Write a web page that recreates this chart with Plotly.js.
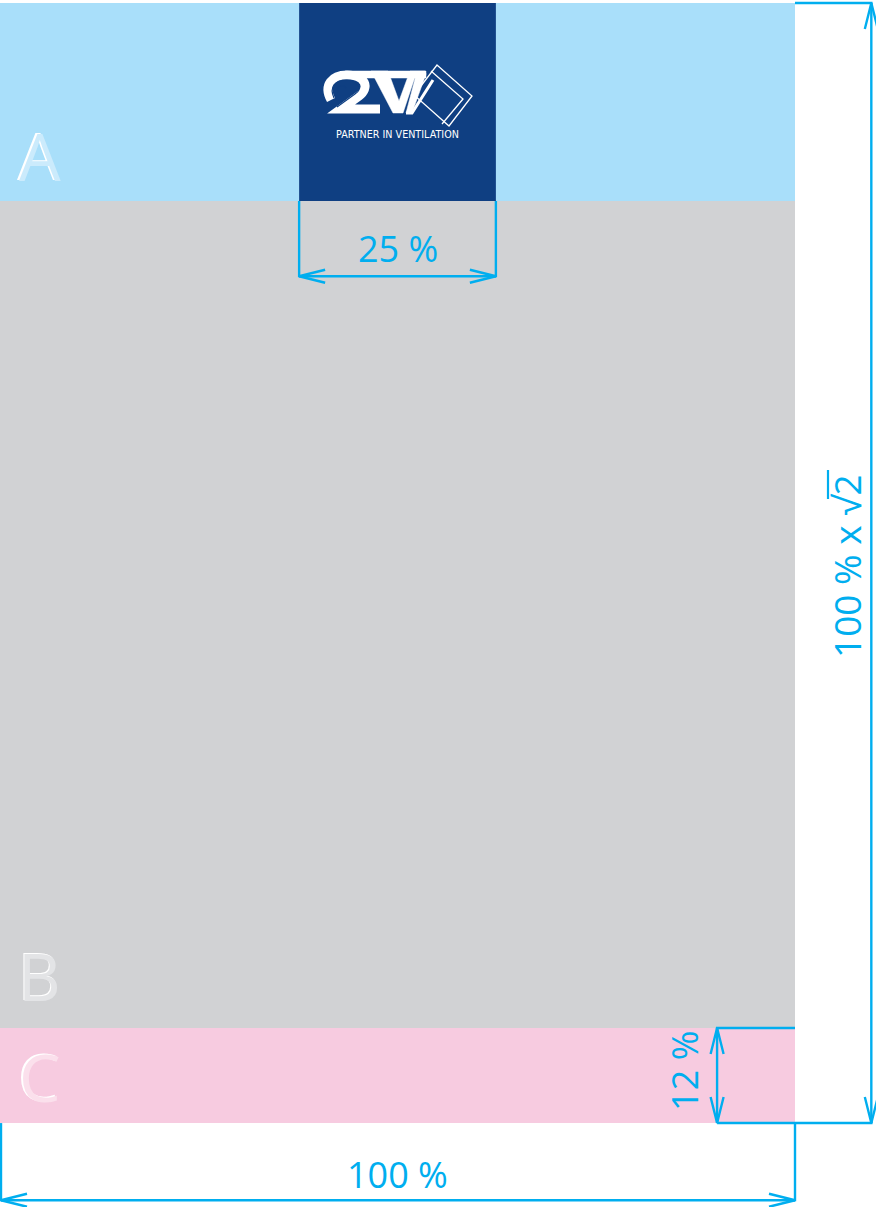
<!DOCTYPE html>
<html><head><meta charset="utf-8">
<script src="https://cdn.plot.ly/plotly-3.0.1.min.js"></script>
<style>html,body{margin:0;padding:0;background:#fff;}#chart{width:876px;height:1207px;}</style>
</head><body><div id="chart"></div>
<script>
// ---- Proportions (percent of the page width) ----
const sectionLabels = ['A', 'B', 'C'];
const pageWidthPct = 100;
const pageRatio = Math.SQRT2;       // height = width x sqrt(2)
const logoPct = 25;                  // logo block width (and height)
const footerPct = 12;                // footer band height
const dimLabels = ['25 %', '100 % x \u221A2', '12 %', '100 %'];
const logoTagline = 'PARTNER IN VENTILATION';

// ---- geometry helpers (percent units -> axis units) ----
const SX = 7.95, SY = 7.92, OX = 0, OY = 3;
const X = u => OX + u * SX, Y = u => OY + u * SY;
const W = pageWidthPct, H = pageWidthPct * pageRatio;
const CY = '#00AEEF';
const LW = 2.4;

const shapes = [];
function rect(x0, y0, x1, y1, fill, layer) {
  shapes.push({type: 'rect', xref: 'x', yref: 'y', x0, y0, x1, y1, fillcolor: fill, line: {width: 0}, layer: layer || 'below'});
}
function line(x0, y0, x1, y1, color, w) {
  shapes.push({type: 'line', xref: 'x', yref: 'y', x0, y0, x1, y1, line: {color: color || CY, width: w || LW}});
}
function path(d, color, w, fill) {
  shapes.push({type: 'path', xref: 'x', yref: 'y', path: d, line: {color: color || CY, width: w || LW}, fillcolor: fill || 'rgba(0,0,0,0)'});
}
function arrow(tx, ty, dx, dy) {
  const L = 26, hw = 6.5;
  const ax = tx + dx * L - dy * hw, ay = ty + dy * L + dx * hw;
  const bx = tx + dx * L + dy * hw, by = ty + dy * L - dx * hw;
  path(`M ${ax},${ay} L ${tx},${ty} L ${bx},${by}`);
}

// ---- page sections ----
rect(X(0), Y(0), X(W), Y(logoPct), '#A9DFFA');
rect(X(0), Y(logoPct), X(W), Y(H - footerPct), '#D1D2D4');
rect(X(0), Y(H - footerPct), X(W), Y(H), '#F7CBE0');
rect(X(50 - logoPct / 2) + 1, Y(0), X(50 + logoPct / 2) - 1, Y(logoPct), '#0F3F82');

// ---- dimension: logo width ----
const lx0 = X(50 - logoPct / 2) + 1, lx1 = X(50 + logoPct / 2) - 1, ly = Y(logoPct + 9.5);
line(lx0, Y(logoPct), lx0, ly + 1);
line(lx1, Y(logoPct), lx1, ly + 1);
line(lx0, ly, lx1, ly);
arrow(lx0, ly, 1, 0); arrow(lx1, ly, -1, 0);

// ---- dimension: page height ----
const rx = X(W + 9.6);
line(X(W), Y(0), rx + 1.2, Y(0));
line(rx, Y(0), rx, Y(H));
line(X(W - 9.8), Y(H), rx + 1.2, Y(H));
arrow(rx, Y(0), 0, 1); arrow(rx, Y(H), 0, -1);

// ---- dimension: footer height ----
const fx = X(W - 9.8);
line(fx - 1.2, Y(H - footerPct), X(W), Y(H - footerPct));
line(fx, Y(H - footerPct), fx, Y(H));
arrow(fx, Y(H - footerPct), 0, 1); arrow(fx, Y(H), 0, -1);

// ---- dimension: page width ----
const by = Y(H + 9.75);
line(X(0) + 1, Y(H), X(0) + 1, by + 1);
line(X(W), Y(H), X(W), by + 1);
line(X(0) + 1, by, X(W), by);
arrow(X(0) + 1, by, 1, 0); arrow(X(W), by, -1, 0);

// overline of the square-root sign (rotated label)
line(828, 470, 828, 499, CY, 2.2);

// ---- logo mark (white) ----
const LB = '#0F3F82';
const WH = '#FFFFFF';
// "2"
path('M 331,100 C 323,85 332,75 347,75 C 366,75 370,88 359,96 L 341,109 L 380,109', WH, 9);
path('M 334,98 C 329,87 335,80 346,80 C 359,80 363,89 355,94 L 337,107', LB, 1.2);
path('M 338,92 C 336,86 343,84 346,88', LB, 1.2);
// joined top bar
path('M 345,71 L 426,71 L 426,78 L 345,78 Z', WH, 0.5, WH);
// first V
path('M 371,71 L 388,71 L 399,101 L 410,71 L 417,71 L 403,113 L 393,113 Z', WH, 0.5, WH);
// second V
path('M 417,71 L 425,71 L 426,74 L 412,113 L 406,113 Z', WH, 0.5, WH);
path('M 406,113 L 412,113 L 433,80', WH, 3);
// diamonds
path('M 437,65 L 472,96 L 449,126 L 414,95 Z', WH, 1.3);
path('M 431,71 L 463,99 L 442,124', WH, 1.3);

// ---- annotations ----
const txt = (text, x, y, size, color, angle, family) => ({
  text, x, y, xref: 'x', yref: 'y', showarrow: false, xanchor: 'center', yanchor: 'middle',
  textangle: angle || 0, font: {family: family || 'Open Sans, sans-serif', size, color}
});
const annotations = [
  txt(dimLabels[0], X(50), Y(logoPct + 6.0), 36, CY),
  txt(dimLabels[1], 846, Y(H / 2) + 3, 37, CY, -90),
  txt(dimLabels[2], fx - 32, Y(H - footerPct / 2 - 0.6), 36, CY, -90),
  txt(dimLabels[3], X(50), Y(H + 6.5), 36, CY),
  txt(logoTagline, X(50), 134.5, 9.6, '#FFFFFF', 0, 'DejaVu Sans, sans-serif')
];
// section letters with an embossed look
const letterY = [Y(logoPct - 5.8), Y(H - footerPct - 6.7), Y(H - 5.9)];
const letterBody = ['#CBEBFC', '#E3E4E6', '#FBE0EC'];
sectionLabels.forEach((s, i) => {
  annotations.push(txt(s, X(5) - 1.5, letterY[i] - 1, 66, '#FFFFFF'));
  annotations.push(txt(s, X(5), letterY[i], 66, letterBody[i]));
});

const layout = {
  width: 876, height: 1207,
  margin: {l: 0, r: 0, t: 0, b: 0},
  paper_bgcolor: '#FFFFFF', plot_bgcolor: '#FFFFFF',
  xaxis: {range: [0, 876], visible: false, fixedrange: true},
  yaxis: {range: [1207, 0], visible: false, fixedrange: true},
  showlegend: false,
  shapes, annotations
};
Plotly.newPlot('chart', [], layout, {displayModeBar: false, staticPlot: true});
</script>
</body></html>
